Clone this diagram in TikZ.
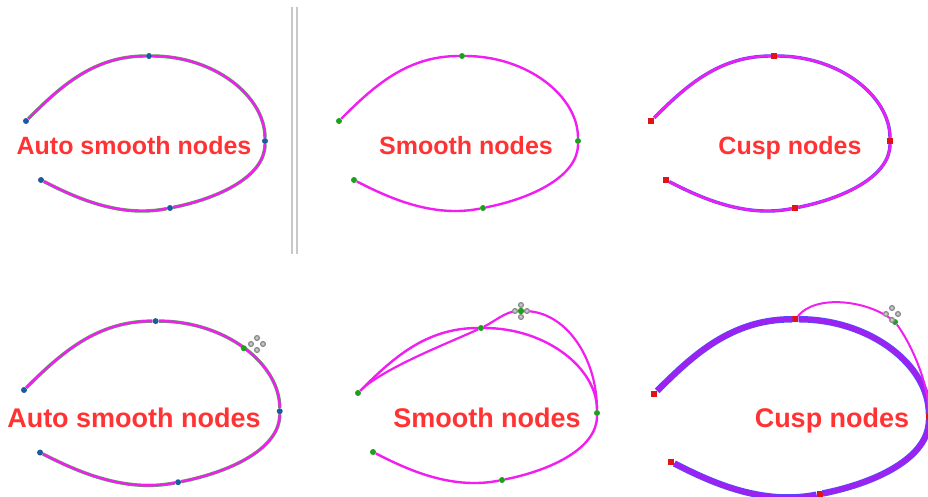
\documentclass[tikz,border=0pt]{standalone}
\usepackage{fontspec}
\setmainfont{Liberation Sans}

\definecolor{curvemagenta}{HTML}{F01EF0}
\definecolor{autoblue}{HTML}{1F5A9E}
\definecolor{smoothgreen}{HTML}{1EA01E}
\definecolor{cuspred}{HTML}{E01414}
\definecolor{textred}{HTML}{FF3333}
\definecolor{cuspviolet}{HTML}{A020F0}
\definecolor{cuspblue}{HTML}{5A46FF}
\definecolor{rulegray}{HTML}{C8C8C8}

% five nodes of one open oval (local coordinates)
\newcommand{\ovalnodes}[2]{%
  \node[#1] (#2s) at (0,0) {};
  \node[#1] (#2t) at (123,-65) {};
  \node[#1] (#2r) at (239,20) {};
  \node[#1] (#2b) at (144,87) {};
  \node[#1] (#2e) at (15,59) {};}
% the oval through them
\newcommand{\ovalcurve}[1]{(#1s) .. controls +(35,-35) and +(-55,0) .. (#1t)
  .. controls +(65,0) and +(0,-45) .. (#1r)
  .. controls +(0,35) and +(50,-10) .. (#1b)
  .. controls +(-50,10) and +(35,18) .. (#1e)}
% grey move handle
\newcommand{\movehandle}[1]{\foreach \a in {0,90,180,270}
  \draw[handle] (#1) ++(\a:6) circle (2.4);}

\begin{document}
\begin{tikzpicture}[x=1pt, y=-1pt,
    curve/.style={draw=curvemagenta, line width=2.4},
    thickcurve/.style={draw=cuspviolet, line width=4.5, preaction={draw=cuspblue, line width=6.5}},
    autodot/.style={circle, fill=autoblue, inner sep=0pt, minimum size=6},
    smoothdot/.style={circle, fill=smoothgreen, inner sep=0pt, minimum size=6},
    cuspdot/.style={rectangle, fill=cuspred, inner sep=0pt, minimum size=6},
    nodetext/.style={text=textred, font=\bfseries\fontsize{25}{30}\selectfont, anchor=base},
    bigtext/.style={nodetext, font=\bfseries\fontsize{27}{32}\selectfont},
    handle/.style={draw=gray!90, fill=gray!45, line width=1.3}]
    \clip (0,0) rectangle (928,497);

    % Separator
    \draw[rulegray, line width=2] (292,7) -- (292,254);
    \draw[rulegray, line width=2] (296.5,7) -- (296.5,254);

    % Top row: auto smooth
    \begin{scope}[shift={(26,121)}]
        \ovalnodes{autodot}{a1}
        \draw[curve, preaction={draw=smoothgreen!80, line width=3.4}] \ovalcurve{a1};
    \end{scope}
    \node[nodetext] (a1lbl) at (134,155) {Auto smooth nodes};

    % Top row: smooth
    \begin{scope}[shift={(339,121)}]
        \ovalnodes{smoothdot}{s1}
        \draw[curve] \ovalcurve{s1};
    \end{scope}
    \node[nodetext] (s1lbl) at (466,155) {Smooth nodes};

    % Top row: cusp
    \begin{scope}[shift={(651,121)}]
        \ovalnodes{cuspdot}{c1}
        \draw[curve, preaction={draw=cuspblue, line width=3.4}] \ovalcurve{c1};
    \end{scope}
    \node[nodetext] (c1lbl) at (790,155) {Cusp nodes};

    % Bottom row: auto smooth, one node moved
    \begin{scope}[shift={(24,390)}, xscale=1.07, yscale=1.06]
        \ovalnodes{autodot}{a2}
        \draw[curve, preaction={draw=smoothgreen!80, line width=3.4}] \ovalcurve{a2};
        \node[smoothdot] (a2g) at (205.4,-39.4) {};
    \end{scope}
    \coordinate (a2m) at (257,344);
    \movehandle{a2m}
    \node[bigtext] (a2lbl) at (134,427) {Auto smooth nodes};

    % Bottom row: smooth, handle dragged
    \begin{scope}[shift={(358,393)}]
        \ovalnodes{smoothdot}{s2}
        \draw[curve] \ovalcurve{s2};
    \end{scope}
    \node[smoothdot] (s2h) at (521,311) {};
    \draw[curve, line width=2.2] (s2s) .. controls +(25,-25) and +(-30,14) .. (s2t)
        .. controls +(13,-6) and +(-15,0) .. (s2h)
        .. controls +(45,0) and +(0,-55) .. (s2r);
    \movehandle{s2h}
    \node[smoothdot] at (s2h) {};
    \node[bigtext] (s2lbl) at (487,427) {Smooth nodes};

    % Bottom row: cusp, handle dragged
    \begin{scope}[shift={(654,394)}, scale=1.15]
        \ovalnodes{cuspdot}{c2}
        \draw[thickcurve] \ovalcurve{c2};
    \end{scope}
    \node[smoothdot] (c2g) at (895,322) {};
    \draw[curve, line width=2] (c2t) .. controls +(20,-25) and +(-28,-22) .. (c2g)
        .. controls +(15,20) and +(0,-35) .. (c2r);
    \coordinate (c2m) at (892,314);
    \movehandle{c2m}
    \node[bigtext] (c2lbl) at (832,427) {Cusp nodes};
\end{tikzpicture}
\end{document}
